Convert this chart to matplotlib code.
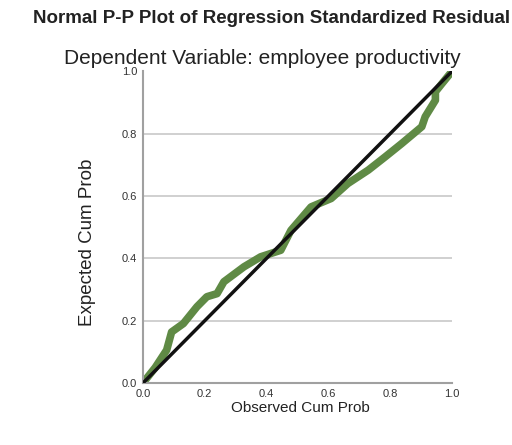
import matplotlib.pyplot as plt

# observed cum prob vs expected cum prob
observed = [0.0, 0.04, 0.077, 0.093, 0.131, 0.175, 0.207, 0.24, 0.262, 0.327,
            0.381, 0.446, 0.479, 0.544, 0.609, 0.663, 0.729, 0.783, 0.837,
            0.902, 0.913, 0.946, 0.946, 0.967, 1.0]
expected = [0.0, 0.05, 0.106, 0.164, 0.191, 0.245, 0.277, 0.287, 0.325, 0.373,
            0.405, 0.426, 0.49, 0.565, 0.592, 0.64, 0.683, 0.725, 0.768,
            0.822, 0.854, 0.907, 0.934, 0.96, 1.0]
ticks = [0.0, 0.2, 0.4, 0.6, 0.8, 1.0]

plt.rcParams['font.family'] = ['Liberation Sans', 'DejaVu Sans']

fig = plt.figure(figsize=(5.12, 4.45), dpi=100)
ax = fig.add_axes([0.279, 0.139, 0.604, 0.701])

fig.text(0.531, 0.958, 'Normal P-P Plot of Regression Standardized Residual',
         ha='center', va='center', fontsize=13.5, fontweight='bold', color='#222222')
fig.text(0.512, 0.868, 'Dependent Variable: employee productivity',
         ha='center', va='center', fontsize=15, color='#222222')

for y in ticks[1:-1]:
    ax.axhline(y, color='#c8c8c8', linewidth=1.2, zorder=1)

ax.plot(observed, expected, color='#5f8a45', linewidth=5.5, solid_capstyle='round',
        solid_joinstyle='round', zorder=2)
ax.plot([0, 1], [0, 1], color='#111111', linewidth=2.5, zorder=3)

ax.set_xlim(0, 1)
ax.set_ylim(0, 1)
ax.set_xticks(ticks)
ax.set_yticks(ticks)
ax.set_xticklabels([f'{t:.1f}' for t in ticks])
ax.set_yticklabels([f'{t:.1f}' for t in ticks])
ax.tick_params(length=0, labelsize=8, colors='#333333', pad=4)

for side in ['top', 'right']:
    ax.spines[side].set_visible(False)
for side in ['left', 'bottom']:
    ax.spines[side].set_color('#a0a0a0')
    ax.spines[side].set_linewidth(1.5)

ax.set_xlabel('Observed Cum Prob', fontsize=11, color='#222222')
ax.set_ylabel('Expected Cum Prob', fontsize=13.5, color='#222222')
ax.xaxis.set_label_coords(0.508, -0.08)
ax.yaxis.set_label_coords(-0.178, 0.45)
ax.xaxis.label.set_va('center')
ax.yaxis.label.set_va('center')

fig.savefig('out.png', dpi=100)
